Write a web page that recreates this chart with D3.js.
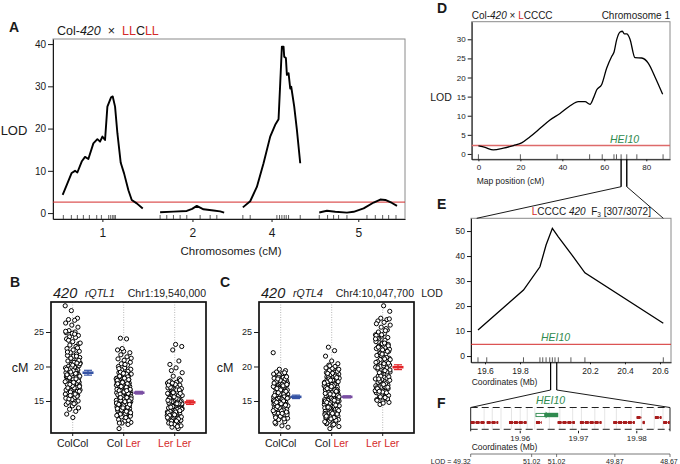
<!DOCTYPE html>
<html><head><meta charset="utf-8">
<script src="https://cdn.jsdelivr.net/npm/d3@7"></script>
<style>body{margin:0;background:#fff} svg{font-family:"Liberation Sans",Arial,Helvetica,sans-serif} text{white-space:pre}</style>
</head><body><svg id="c" width="680" height="464"></svg>
<script>
// ================= DATA =================
// Panel A: genome scan Col-420 x LLCLL
const chromNames = ["1","2","4","5"];
const chromLength = [121, 97, 86, 118];
const chromOffset = [0, 147, 271, 385];
const chr1Cm  = [1,7,14.5,19.5,23,29.5,34.5,39.5,47,53,57,60.5,64.5,68,73.5,76,79.5,83,88,93,99.5,104.5,112,121];
const chr1Lod = [4.3,6.6,9.5,10,9.6,12.2,13.3,12.8,16.5,17.5,16.9,18.1,17.3,25.2,27.4,27.6,25.2,18.9,11.9,9.4,5.4,3.1,2.3,1.1];
const chr2Cm  = [0,20,40,48,55,60,65,80,90,96];
const chr2Lod = [0.2,0.35,0.5,1.0,1.7,1.3,0.9,0.6,0.4,0.1];
const chr4Cm  = [0,11,21,31,41,48.5,53.5,56,58.5,61,62,64.5,66,68.5,71,72.5,77,81,86];
const chr4Lod = [1.35,2.8,6.2,11.8,18.1,20.9,22.2,30.7,39.4,39.4,37,36.7,32.7,33.1,29.5,29.9,25.2,19.7,11.8];
const chr5Cm  = [0.5,12,24.5,42,52,67,82,92,99.5,109.5,117];
const chr5Lod = [0.15,0.55,0.3,0.1,0.3,1.1,2.5,3.2,3.1,2.4,1.7];
const chr1Markers = [2,14,23,32,41,52,59,70,73,76,78,80];
const chr2Markers = [0,10,20,30,40,60,75,85];
const chr4Markers = [0,11,51,55,58.5,62,65,68.5,86];
const chr5Markers = [0.5,13,22,29.5,42,72,84.5,95.5,104.5,115.5];
const aThreshold = 2.6;
const aYTicks = [0,10,20,30,40];

// Panels B, C: crossover (cM) by genotype
const genoCats = ["ColCol","ColLer","LerLer"];
const bColCol = [28.8,28.1,27.0,26.8,26.7,26.3,26.0,25.7,25.2,25.0,24.9,24.8,24.5,24.3,24.2,24.0,23.6,23.3,23.1,22.9,22.6,22.4,22.2,22.0,21.8,21.6,21.5,21.3,21.1,21.0,20.8,20.6,20.5,20.3,20.2,20.0,19.9,19.8,19.6,19.5,19.4,19.2,19.1,19.0,18.9,18.8,18.6,18.5,18.4,18.3,18.2,18.0,17.9,17.8,17.7,17.6,17.5,17.4,17.3,17.2,17.0,16.9,16.8,16.7,16.6,16.5,16.4,16.2,16.1,16.0,15.9,15.8,15.6,15.5,15.4,15.2,15.0,14.9,14.7,14.5,14.3,14.0,13.8,13.5,13.1,12.6,20.1,19.7,19.3,18.7,18.1,17.1,16.3,19.0,18.5,17.5,20.4,21.2,15.7,14.8,16.9,17.8,18.9,22.7,23.8,24.7,25.1,19.9,20.7,15.3,16.0,16.6,17.2,17.9,18.4,19.0,19.6,20.2,20.9,17.4,18.2,18.8,19.4,16.4,15.8,21.5,22.1,17.7,18.6,19.2,20.5,16.9,14.6,23.4];
const bColLer = [24.1,24.0,22.4,22.2,22.0,21.7,21.4,21.1,20.9,20.6,20.4,20.2,20.0,19.8,19.6,19.5,19.3,19.1,19.0,18.9,18.8,18.6,18.5,18.4,18.3,18.2,18.1,18.0,17.9,17.8,17.7,17.6,17.5,17.4,17.3,17.2,17.1,17.0,16.9,16.8,16.7,16.6,16.5,16.4,16.3,16.2,16.1,16.0,15.9,15.8,15.7,15.6,15.5,15.4,15.3,15.2,15.1,15.0,14.9,14.8,14.7,14.6,14.5,14.4,14.3,14.2,14.1,14.0,13.9,13.8,13.7,13.6,13.5,13.4,13.3,13.2,13.1,13.0,12.9,12.7,12.5,12.3,12.1,11.9,11.8,11.6,11.0,18.7,18.2,17.8,17.4,17.0,16.6,16.2,15.8,15.4,15.0,14.6,14.2,13.8,13.4,19.2,18.9,17.6,16.9,16.4,15.7,15.2,14.4,13.6,12.8,16.0,16.8,17.2,15.5,14.9,14.0,18.5,19.7,20.3,21.2,22.6,12.2,11.8,13.2,14.7,15.9,16.3,17.5,18.0,16.7,15.3,14.3,13.1,13.5,13.9,14.3,14.7,15.1,15.5,15.9,16.3,16.7,17.1,17.5,17.9,18.3,13.3,13.7,14.1,14.5,14.9,15.3,15.7,16.1,16.5,16.9,17.3,17.7,18.1,18.6,12.6,12.9,14.0,15.0,16.0,17.0,18.0,19.0,14.5,15.5,16.5,17.5];
const bLerLer = [23.2,22.9,22.4,20.8,20.3,19.8,19.1,18.6,18.2,17.9,17.7,17.6,17.5,17.3,17.2,17.0,16.9,16.7,16.5,16.4,16.2,16.0,15.9,15.7,15.6,15.5,15.3,15.2,15.0,14.9,14.8,14.7,14.5,14.4,14.3,14.2,14.1,14.0,13.9,13.8,13.7,13.6,13.5,13.4,13.3,13.2,13.1,13.0,12.9,12.8,12.7,12.6,12.5,12.4,12.3,12.2,12.1,12.0,11.8,11.6,11.4,11.2,11.0,17.8,17.4,16.8,16.3,15.8,15.4,15.1,14.6,14.2,13.9,13.5,13.2,12.9,12.6,12.3,17.1,16.6,16.1,15.6,14.9,14.4,13.8,13.3,12.8,18.0,19.4,15.0,14.0,13.0,12.2,16.9,15.3,14.7,13.6,12.7,17.6,12.4,12.9,13.4,13.8,14.2,14.6,15.0,15.4,15.8,16.2,16.6,17.0,12.1,12.6,13.1,13.6,14.1,14.6,15.1,15.6,16.1,11.7,11.3,17.3,13.0];
const cColCol = [22.0,19.6,19.4,19.2,19.0,18.9,18.7,18.6,18.5,18.4,18.3,18.1,18.0,17.9,17.7,17.6,17.5,17.3,17.2,17.0,16.9,16.8,16.6,16.5,16.4,16.2,16.1,16.0,15.9,15.8,15.7,15.6,15.5,15.4,15.3,15.2,15.1,15.0,14.9,14.8,14.7,14.6,14.5,14.4,14.3,14.2,14.1,14.0,13.9,13.8,13.7,13.6,13.5,13.4,13.3,13.2,13.0,12.9,12.7,12.5,12.3,12.0,11.7,11.4,11.2,18.8,18.2,17.8,17.4,17.1,16.7,16.3,15.9,15.5,15.2,14.8,14.5,14.1,13.7,13.3,12.8,18.5,17.0,16.0,15.0,14.0,13.0,16.5,15.6,14.6,13.6,17.6,18.4,19.1,12.6,15.3,14.3,16.8,17.3,13.9,13.2,13.6,14.0,14.4,14.8,15.2,15.6,16.0,16.4,16.8,17.2,17.6,18.0,13.4,14.2,15.0,15.8,16.6,17.4,18.2,12.4,11.9,14.6,15.4,16.2];
const cColLer = [22.8,22.3,21.5,20.8,20.4,20.2,20.0,19.8,19.7,19.5,19.4,19.2,19.1,19.0,18.9,18.7,18.6,18.5,18.4,18.3,18.2,18.0,17.9,17.8,17.7,17.6,17.5,17.4,17.3,17.2,17.1,17.0,16.9,16.8,16.7,16.6,16.5,16.4,16.3,16.2,16.1,16.0,15.9,15.8,15.7,15.6,15.5,15.4,15.3,15.2,15.1,15.0,14.9,14.8,14.7,14.6,14.5,14.4,14.3,14.2,14.1,14.0,13.9,13.8,13.7,13.6,13.5,13.4,13.3,13.2,13.1,13.0,12.9,12.8,12.7,12.6,12.5,12.4,12.3,12.1,11.9,11.7,11.5,11.3,11.0,18.8,18.1,17.6,17.2,16.8,16.4,16.0,15.6,15.2,14.8,14.4,14.0,13.6,13.2,12.8,19.3,18.4,17.4,16.6,15.8,15.0,14.2,13.4,12.6,16.2,15.4,14.6,13.8,17.0,18.0,19.6,20.1,12.2,11.8,13.0,14.3,15.5,16.7,17.8,15.9,14.9,13.9,16.3,15.1,12.6,13.0,13.4,13.8,14.2,14.6,15.0,15.4,15.8,16.2,16.6,17.0,17.4,17.8,18.2,18.6,12.8,13.2,13.6,14.0,14.4,14.8,15.2,15.6,16.0,16.4,16.8,17.2,17.6,18.0,18.4,19.0,11.6,12.0,12.4,13.1,14.1,15.1,16.1,17.1];
const cLerLer = [28.8,28.0,27.0,26.8,26.6,26.4,26.0,25.7,25.3,25.0,24.8,24.6,24.4,24.2,24.0,23.8,23.6,23.4,23.2,23.0,22.8,22.6,22.4,22.2,22.0,21.8,21.6,21.4,21.2,21.0,20.8,20.6,20.4,20.2,20.0,19.8,19.6,19.4,19.2,19.0,18.8,18.6,18.4,18.2,18.0,17.8,17.6,17.4,17.2,17.0,16.8,16.6,16.4,16.2,16.0,15.8,15.6,15.4,15.2,15.0,14.8,14.5,25.5,24.1,23.1,22.5,21.9,21.3,20.7,20.1,19.5,18.9,18.3,17.7,17.1,16.5,15.9,15.3,22.9,21.1,19.9,18.1,17.3,16.1,15.5,24.5,23.3,20.5,19.1,17.5,16.9,16.3,18.5,17.9,17.0,15.1,14.7,26.9,15.6,16.2,16.8,17.4,18.0,18.6,19.2,19.8,20.4,21.0,21.6,22.2,22.8,23.4,24.0,24.6,17.0,18.2,19.4,20.6,21.8,23.0,16.4,25.2,26.2];
const bMeans = [19.1, 16.2, 14.8], bSE = [0.35, 0.2, 0.3];
const cMeans = [15.6, 15.6, 19.9], cSE = [0.25, 0.15, 0.35];
const bcYTicks = [15, 20, 25];

// Panel D: chromosome 1 scan, Col-420 x LCCCC
const dCm  = [0,3.2,7.1,11.9,16.7,20.6,24.6,29.4,34.1,38.9,43.7,47.6,50.8,53.2,54.8,56.4,58.7,61.1,63.5,64.6,65.9,67.5,68.6,69.5,70.7,72.2,74.6,77.8,81,84.1,87.8];
const dLod = [2.1,1.7,1.05,1.5,2.2,2.9,4.5,6.7,8.9,10.6,12.6,13.7,13.7,13.0,14.6,16.8,18.1,22.4,25.5,26.6,29.9,31.9,32.1,31.4,31.4,30.1,25.2,25.1,23.7,20.2,15.6];
const dMarkers = [0,20,37.5,53,59,64.6,65.8,68,70.7,75.5,88];
const dZoom = [68, 70.7];
const dThreshold = 2.2;
const dXTicks = [0,20,40,60,80], dYTicks = [0,5,10,15,20,25,30];

// Panel E: fine mapping, LCCCC 420 F3
const eMb  = [19.56,19.82,19.914,19.949,19.985,20.019,20.091,20.171,20.619];
const eLod = [10.4,26.4,35.7,44.4,51.1,47.7,41,33.3,13.1];
const eMarkers = [19.56,19.61,19.82,19.914,19.93,19.949,19.97,19.985,20.0,20.019,20.091,20.171,20.619];
const eZoom = [19.975, 20.010];
const eThreshold = 4.7;
const eXTicks = [19.6,19.8,20.2,20.4,20.6], eYTicks = [0,10,20,30,40,50];

// Panel F: gene models
const fGeneStart = [19.9515,19.95424,19.95807,19.9627,19.96641,19.97024,19.97595,19.97996,19.98099,19.9831,19.98452];
const fGeneEnd   = [19.95395,19.95623,19.9611,19.96367,19.96938,19.97396,19.97967,19.98082,19.98139,19.98425,19.98567];
const fGeneRow   = [0,0,0,0,0,0,0,1,0,1,0];
const hei10Start = 19.9627, hei10Split = 19.9642, hei10End = 19.96652;
const fGrid = [19.9538,19.9552,19.9567,19.9585,19.9600,19.9612,19.9625,19.9650,19.9668,19.9690,19.9705,19.9728,19.9745,19.9765,19.9790,19.9808,19.9830,19.9845];
const fXTicks = [19.96,19.97,19.98];
const fLodPos = [19.9515,19.96196,19.96624,19.97624,19.9857];
const fLodLab = ["49.32","51.02","51.02","49.87","48.67"];

// ================= DRAW =================
const RED = "#d42a2a", GREEN = "#2f8a4e", INK = "#1a1a1a";
const svg = d3.select("#c");

function txt(g, x, y, s, size, o = {}) {
  return g.append("text").attr("x", x).attr("y", y).attr("font-size", size)
    .attr("text-anchor", o.anchor || "start").attr("font-weight", o.bold ? "bold" : null)
    .attr("font-style", o.italic ? "italic" : null).attr("fill", o.color || INK).text(s);
}
function rich(g, x, y, size, parts, anchor) {
  const t = g.append("text").attr("x", x).attr("y", y).attr("font-size", size)
    .attr("text-anchor", anchor || "start").attr("fill", INK);
  parts.forEach(p => {
    const ts = t.append("tspan").text(p.t);
    if (p.i) ts.attr("font-style", "italic");
    if (p.c) ts.attr("fill", p.c);
    if (p.s) ts.attr("font-size", p.s);
    if (p.dy) ts.attr("dy", p.dy);
  });
  return t;
}
function styleAxis(sel, size) {
  sel.selectAll("path").attr("stroke", INK);
  sel.selectAll("line").attr("stroke", INK);
  sel.selectAll("text").attr("font-size", size).attr("fill", INK).attr("font-family", null);
  sel.attr("font-family", null);
}
function frame(g, x, y, w, h) {
  g.append("rect").attr("x", x).attr("y", y).attr("width", w).attr("height", h)
    .attr("fill", "none").attr("stroke", "#8a8a8a").attr("stroke-width", 1);
}

// ---------- Panel A ----------
{
  const g = svg.append("g");
  const xA = d3.scaleLinear().domain([-13.5, 514]).range([53, 405]);
  const yA = d3.scaleLinear().domain([-1.4, 41.2]).range([219, 39]);
  const [x0, x1] = xA.range(), [yb, yt] = yA.range();
  frame(g, x0, yt, x1 - x0, yb - yt);
  g.append("g").attr("transform", `translate(${x0},0)`)
    .call(d3.axisLeft(yA).tickValues(aYTicks).tickSize(5).tickSizeOuter(0).tickPadding(2))
    .call(styleAxis, 10);
  const mids = chromOffset.map((o, i) => o + chromLength[i] / 2);
  g.append("g").attr("transform", `translate(0,${yb})`)
    .call(d3.axisBottom(xA).tickValues(mids).tickFormat((d, i) => chromNames[i]).tickSize(3).tickSizeOuter(0).tickPadding(6))
    .call(styleAxis, 12);
  const cms = [chr1Cm, chr2Cm, chr4Cm, chr5Cm], lods = [chr1Lod, chr2Lod, chr4Lod, chr5Lod];
  const marks = [chr1Markers, chr2Markers, chr4Markers, chr5Markers];
  marks.forEach((m, i) => {
    g.selectAll(null).data(m).join("line")
      .attr("x1", d => xA(chromOffset[i] + d)).attr("x2", d => xA(chromOffset[i] + d))
      .attr("y1", yb).attr("y2", yb - 4).attr("stroke", "#333").attr("stroke-width", 0.8);
  });
  g.append("line").attr("x1", x0).attr("x2", x1).attr("y1", yA(aThreshold)).attr("y2", yA(aThreshold))
    .attr("stroke", RED).attr("stroke-width", 1);
  const line = d3.line().x(d => xA(d[0])).y(d => yA(d[1]));
  cms.forEach((c, i) => {
    const pts = c.map((v, j) => [chromOffset[i] + v, lods[i][j]]);
    g.append("path").attr("d", line(pts)).attr("fill", "none").attr("stroke", "#000")
      .attr("stroke-width", 1.9).attr("stroke-linejoin", "round");
  });
  txt(g, 9, 31.5, "A", 14, { bold: true });
  rich(g, 57, 35, 12.5, [{ t: "Col-" }, { t: "420", i: 1 }, { t: "  ×  " }, { t: "LL", c: RED }, { t: "C" }, { t: "LL", c: RED }]);
  txt(g, 14, 135, "LOD", 13, { anchor: "middle" });
  txt(g, (x0 + x1) / 2 + 2, 255, "Chromosomes (cM)", 11.5, { anchor: "middle" });
}

// ---------- Panels B, C ----------
function effectPanel(left, values, means, ses, letter, qtl, locus, letterX, cmX) {
  const g = svg.append("g");
  const x = d3.scalePoint().domain(genoCats).range([left + 21.7, left + 123.7]);
  const y = d3.scaleLinear().domain([10.36, 29.35]).range([433, 302]);
  const [yb, yt] = y.range();
  const w = 155;
  genoCats.forEach(c => {
    g.append("line").attr("x1", x(c)).attr("x2", x(c)).attr("y1", yt).attr("y2", yb)
      .attr("stroke", "#9a9a9a").attr("stroke-width", 0.7).attr("stroke-dasharray", "1,1.5");
  });
  // deterministic (non-random) horizontal spread of the strip plot
  const spread = i => (((i * 7919) % 101) / 100 - 0.5) * 15;
  values.forEach((vals, k) => {
    g.selectAll(null).data(vals).join("circle")
      .attr("cx", (d, i) => x(genoCats[k]) + spread(i + k * 13))
      .attr("cy", d => y(d)).attr("r", 2.1)
      .attr("fill", "#fff").attr("stroke", "#000").attr("stroke-width", 1.0);
  });
  const cols = ["#3553a5", "#7a4fa3", "#e3262a"];
  means.forEach((m, k) => {
    const cx = x(genoCats[k]) + 15.3;
    const col = cols[k];
    g.append("line").attr("x1", cx).attr("x2", cx).attr("y1", y(m - ses[k])).attr("y2", y(m + ses[k])).attr("stroke", col).attr("stroke-width", 1.2);
    [m - ses[k], m + ses[k]].forEach(v => g.append("line").attr("x1", cx - 4).attr("x2", cx + 4).attr("y1", y(v)).attr("y2", y(v)).attr("stroke", col).attr("stroke-width", 1.2));
    g.append("line").attr("x1", cx - 5.5).attr("x2", cx + 5.5).attr("y1", y(m)).attr("y2", y(m)).attr("stroke", col).attr("stroke-width", 2.6);
  });
  g.append("rect").attr("x", left).attr("y", yt).attr("width", w).attr("height", yb - yt)
    .attr("fill", "none").attr("stroke", "#111").attr("stroke-width", 1.7);
  g.append("g").attr("transform", `translate(${left},0)`)
    .call(d3.axisLeft(y).tickValues(bcYTicks).tickSize(5).tickSizeOuter(0).tickPadding(2))
    .call(styleAxis, 9).call(a => a.select(".domain").remove());
  const labs = [[{ t: "Col" }, { t: "Col" }], [{ t: "Col " }, { t: "Ler", c: RED }], [{ t: "Ler", c: RED }, { t: " " }, { t: "Ler", c: RED }]];
  labs.forEach((p, k) => {
    g.append("line").attr("x1", x(genoCats[k])).attr("x2", x(genoCats[k])).attr("y1", yb).attr("y2", yb + 3).attr("stroke", INK);
    rich(g, x(genoCats[k]), 447, 10.5, p, "middle");
  });
  txt(g, letterX, 287, letter, 14, { bold: true });
  txt(g, left + 2, 298, "420", 14.5, { italic: true });
  txt(g, left + 34, 297, qtl, 10.5, { italic: true });
  txt(g, left + w, 297, locus, 10.5, { anchor: "end" });
  txt(g, cmX, 371.5, "cM", 12.5, { anchor: "middle" });
}
effectPanel(51, [bColCol, bColLer, bLerLer], bMeans, bSE, "B", "rQTL1", "Chr1:19,540,000", 10, 20);
effectPanel(259, [cColCol, cColLer, cLerLer], cMeans, cSE, "C", "rQTL4", "Chr4:10,047,700", 220, 225);

// ---------- Panel D ----------
let xD, yD;
{
  const g = svg.append("g");
  xD = d3.scaleLinear().domain([-3.2, 91.3]).range([471.7, 670]);
  yD = d3.scaleLinear().domain([-1.4, 34.6]).range([159.3, 21.7]);
  const [x0, x1] = xD.range(), [yb, yt] = yD.range();
  frame(g, x0, yt, x1 - x0, yb - yt);
  g.append("g").attr("transform", `translate(${x0},0)`)
    .call(d3.axisLeft(yD).tickValues(dYTicks).tickSize(4).tickSizeOuter(0).tickPadding(2))
    .call(styleAxis, 8);
  g.append("g").attr("transform", `translate(0,${yb})`)
    .call(d3.axisBottom(xD).tickValues(dXTicks).tickSize(2).tickSizeOuter(0).tickPadding(3))
    .call(styleAxis, 8);
  g.selectAll(null).data(dMarkers).join("line")
    .attr("x1", d => xD(d)).attr("x2", d => xD(d)).attr("y1", yb).attr("y2", yb - 5)
    .attr("stroke", "#333").attr("stroke-width", 0.8);
  g.append("line").attr("x1", x0).attr("x2", x1).attr("y1", yD(dThreshold)).attr("y2", yD(dThreshold))
    .attr("stroke", "#dd6a6a").attr("stroke-width", 1.6);
  const line = d3.line().x((d, i) => xD(dCm[i])).y(d => yD(d)).curve(d3.curveMonotoneX);
  g.append("path").attr("d", line(dLod)).attr("fill", "none").attr("stroke", "#000").attr("stroke-width", 1.3);
  txt(g, 437, 13, "D", 14, { bold: true });
  rich(g, x0, 19, 10, [{ t: "Col-" }, { t: "420", i: 1 }, { t: " × " }, { t: "L", c: RED }, { t: "CCCC" }]);
  txt(g, x1, 19, "Chromosome 1", 10, { anchor: "end" });
  txt(g, 441, 100.5, "LOD", 10.5, { anchor: "middle" });
  txt(g, 610, 143, "HEI10", 10.5, { italic: true, color: GREEN });
  txt(g, 476.7, 184, "Map position (cM)", 8.5);
}

// ---------- Panel E ----------
let xE, yE;
{
  const g = svg.append("g");
  xE = d3.scaleLinear().domain([19.52, 20.663]).range([471, 671]);
  yE = d3.scaleLinear().domain([-2.5, 55.1]).range([362.3, 218.3]);
  const [x0, x1] = xE.range(), [yb, yt] = yE.range();
  frame(g, x0, yt, x1 - x0, yb - yt);
  g.append("g").attr("transform", `translate(${x0},0)`)
    .call(d3.axisLeft(yE).tickValues(eYTicks).tickSize(4).tickSizeOuter(0).tickPadding(2))
    .call(styleAxis, 8.5);
  g.append("g").attr("transform", `translate(0,${yb})`)
    .call(d3.axisBottom(xE).tickValues(eXTicks).tickFormat(d3.format(".1f")).tickSize(2).tickSizeOuter(0).tickPadding(4))
    .call(styleAxis, 8.5);
  g.selectAll(null).data(eMarkers).join("line")
    .attr("x1", d => xE(d)).attr("x2", d => xE(d)).attr("y1", yb).attr("y2", yb - 5)
    .attr("stroke", "#333").attr("stroke-width", 0.8);
  g.append("line").attr("x1", x0).attr("x2", x1).attr("y1", yE(eThreshold)).attr("y2", yE(eThreshold))
    .attr("stroke", RED).attr("stroke-width", 1);
  const line = d3.line().x((d, i) => xE(eMb[i])).y(d => yE(d));
  g.append("path").attr("d", line(eLod)).attr("fill", "none").attr("stroke", "#000").attr("stroke-width", 1.3);
  txt(g, 437, 209, "E", 14, { bold: true });
  rich(g, 531.7, 215, 10, [{ t: "L", c: RED }, { t: "CCCC " }, { t: "420", i: 1 }, { t: "  F" }, { t: "3", s: 6.5, dy: 1.5 }, { t: " [307/3072]", dy: -1.5 }]);
  txt(g, 432, 297, "LOD", 10.5, { anchor: "middle" });
  txt(g, 541, 340.5, "HEI10", 10.5, { italic: true, color: GREEN });
  txt(g, 471.7, 384.5, "Coordinates (Mb)", 8.5);
  const zy1 = yD.range()[0], zy2 = 186.7;
  dZoom.forEach((d, k) => {
    const zx = xD(d);
    g.append("line").attr("x1", zx).attr("x2", zx).attr("y1", zy1).attr("y2", zy2).attr("stroke", "#000").attr("stroke-width", 1.4);
    g.append("line").attr("x1", zx).attr("x2", k === 0 ? 476.7 : 663.3).attr("y1", zy2).attr("y2", yt).attr("stroke", "#000").attr("stroke-width", 0.9);
  });
}

// ---------- Panel F ----------
{
  const g = svg.append("g");
  const xF = d3.scaleLinear().domain([19.9515, 19.9857]).range([470.7, 670]);
  const [x0, x1] = xF.range();
  const yTop = 407.5, yBot = 429.3, rowY = [422.5, 417.5];
  eZoom.forEach((d, k) => {
    const zx = xE(d);
    g.append("line").attr("x1", zx).attr("x2", zx).attr("y1", yE.range()[0]).attr("y2", 390).attr("stroke", "#000").attr("stroke-width", 1.2);
    g.append("line").attr("x1", zx).attr("x2", k === 0 ? x0 : x1).attr("y1", 390).attr("y2", yTop).attr("stroke", "#000").attr("stroke-width", 0.9);
  });
  g.selectAll(null).data(fGrid).join("line")
    .attr("x1", d => xF(d)).attr("x2", d => xF(d)).attr("y1", yTop).attr("y2", yBot)
    .attr("stroke", "#d4d4d4").attr("stroke-width", 0.6);
  [yTop, yBot].forEach(yy => g.append("line").attr("x1", x0).attr("x2", x1).attr("y1", yy).attr("y2", yy)
    .attr("stroke", "#222").attr("stroke-width", 1).attr("stroke-dasharray", "7,4"));
  [x0, x1].forEach(xx => g.append("line").attr("x1", xx).attr("x2", xx).attr("y1", yTop).attr("y2", yBot + 2).attr("stroke", "#222").attr("stroke-width", 1));
  fGeneStart.forEach((s, i) => {
    const yy = rowY[fGeneRow[i]];
    g.append("line").attr("x1", xF(s)).attr("x2", xF(fGeneEnd[i])).attr("y1", yy).attr("y2", yy)
      .attr("stroke", "#a81c1c").attr("stroke-width", 0.7);
    g.append("line").attr("x1", xF(s)).attr("x2", xF(fGeneEnd[i])).attr("y1", yy).attr("y2", yy)
      .attr("stroke", "#a81c1c").attr("stroke-width", 3.2).attr("stroke-dasharray", "4,0.9");
  });
  const hy = 415;
  g.append("rect").attr("x", xF(hei10Start)).attr("y", hy - 1.6).attr("width", xF(hei10Split) - xF(hei10Start)).attr("height", 3.2)
    .attr("fill", "#fff").attr("stroke", GREEN).attr("stroke-width", 0.9);
  g.append("rect").attr("x", xF(hei10Split)).attr("y", hy - 2.2).attr("width", xF(hei10End) - xF(hei10Split)).attr("height", 4.4)
    .attr("fill", GREEN);
  g.append("path").attr("d", `M${xF(hei10Split) + 1},${hy - 3.5} l3,3.5 l-3,3.5 z`).attr("fill", GREEN);
  txt(g, 536, 404, "HEI10", 10.5, { italic: true, color: GREEN });
  g.selectAll(null).data(fXTicks).join("line").attr("x1", d => xF(d)).attr("x2", d => xF(d))
    .attr("y1", yBot + 1.5).attr("y2", yBot + 4).attr("stroke", INK);
  g.selectAll(null).data(fXTicks).join("text").attr("x", d => xF(d)).attr("y", 440.5)
    .attr("text-anchor", "middle").attr("font-size", 8).attr("fill", INK).text(d => d3.format(".2f")(d));
  txt(g, 471.7, 449.5, "Coordinates (Mb)", 8.5);
  const ly = 454;
  g.append("line").attr("x1", x0).attr("x2", x1).attr("y1", ly).attr("y2", ly).attr("stroke", "#555").attr("stroke-width", 0.8);
  g.selectAll(null).data(fLodPos).join("line").attr("x1", d => xF(d)).attr("x2", d => xF(d))
    .attr("y1", ly).attr("y2", ly + 3).attr("stroke", "#555").attr("stroke-width", 0.8);
  fLodPos.forEach((p, i) => {
    if (i === 0) txt(g, xF(p), 463.5, "LOD = " + fLodLab[i], 7, { anchor: "end" });
    else txt(g, Math.min(xF(p), 669), 463.5, fLodLab[i], 7, { anchor: "middle" });
  });
  txt(g, 437, 408, "F", 14, { bold: true });
}
</script></body></html>
